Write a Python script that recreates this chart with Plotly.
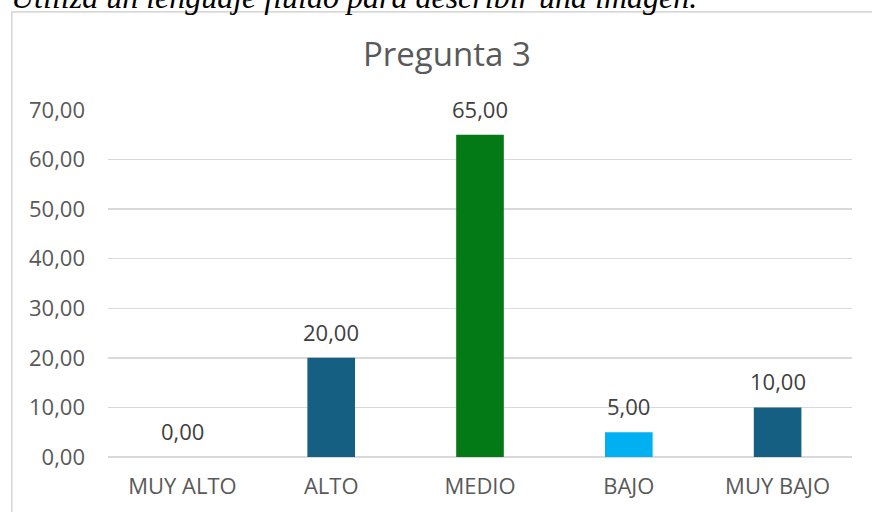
import plotly.graph_objects as go

categories = ["MUY ALTO", "ALTO", "MEDIO", "BAJO", "MUY BAJO"]
values = [0.0, 20.0, 65.0, 5.0, 10.0]
bar_colors = ["#156082", "#156082", "#037A15", "#00B0F0", "#156082"]
y_ticks = [0, 10, 20, 30, 40, 50, 60, 70]
title_text = "Pregunta 3"
caption_text = "Utiliza un lenguaje fluido para describir una imagen."

W, H = 872, 512
ml, mr, mt, mb = 108, 20, 110, 55
plot_h = H - mt - mb
plot_w = W - ml - mr


def fmt(v):
    return f"{v:.2f}".replace(".", ",")


def px_x(x):
    return (x - ml) / plot_w


def px_y(y):
    return (H - mb - y) / plot_h


fig = go.Figure()
fig.add_trace(go.Bar(
    x=categories, y=values, marker=dict(color=bar_colors, line=dict(width=0)),
    width=0.32, hoverinfo="skip",
))

annotations = []
for c, v in zip(categories, values):
    annotations.append(dict(
        x=c, y=v, xref="x", yref="y", text=fmt(v), showarrow=False,
        yanchor="middle", yshift=26,
        font=dict(family="Open Sans", size=22, color="#404040"),
    ))

# cropped caption at the very top
annotations.append(dict(
    x=px_x(9), y=px_y(-2.5), xref="paper", yref="paper",
    xanchor="left", yanchor="middle", text=caption_text, showarrow=False,
    font=dict(family="Liberation Serif", size=32, color="#000000", style="italic"),
))

annotations.append(dict(
    x=px_x(447), y=px_y(53), xref="paper", yref="paper",
    xanchor="center", yanchor="middle", text=title_text, showarrow=False,
    font=dict(family="Open Sans", size=33, color="#595959"),
))

fig.update_layout(
    width=W, height=H,
    margin=dict(l=ml, r=mr, t=mt, b=mb, pad=0),
    paper_bgcolor="white", plot_bgcolor="white",
    showlegend=False,
    annotations=annotations,
    shapes=[dict(
        type="rect", xref="paper", yref="paper",
        x0=px_x(11.8), x1=px_x(W + 20),
        y0=px_y(H + 20), y1=px_y(11.8),
        line=dict(color="#D9D9D9", width=1.7), fillcolor="rgba(0,0,0,0)",
        layer="below",
    )],
    xaxis=dict(
        showgrid=False, showline=False, zeroline=False, ticks="",
        tickfont=dict(family="Open Sans", size=22, color="#595959"),
        ticklabelstandoff=14,
        fixedrange=True,
    ),
    yaxis=dict(
        range=[0, 70], tickvals=y_ticks,
        ticktext=[fmt(t) for t in y_ticks],
        showgrid=True, gridcolor="#D9D9D9", gridwidth=1.3,
        zeroline=True, zerolinecolor="#D9D9D9", zerolinewidth=1.3,
        showline=False, ticks="",
        tickfont=dict(family="Open Sans", size=22, color="#595959"),
        ticklabelstandoff=22,
        fixedrange=True,
    ),
)

fig.write_html(
    "out.html",
    config=dict(displayModeBar=False, staticPlot=True),
    post_script="document.body.style.margin='0';document.body.style.overflow='hidden';",
)
